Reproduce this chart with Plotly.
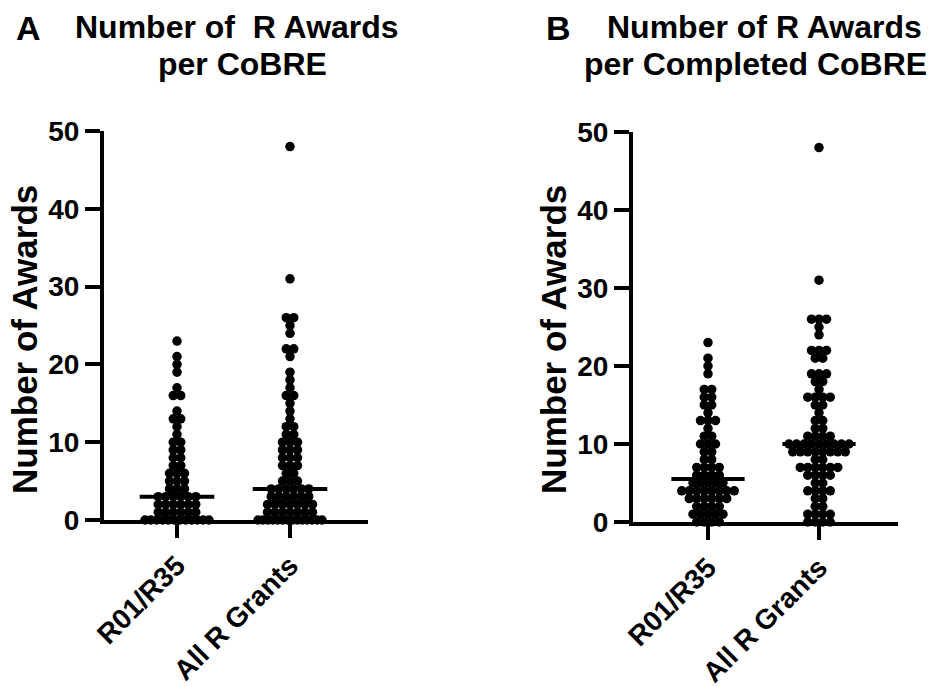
import numpy as np
import plotly.graph_objects as go
from collections import Counter

# ---------------- data ----------------
categories = ["R01/R35", "All R Grants"]

# Panel A: Number of R awards per CoBRE
a_r01 = [0, 0, 0, 0, 0, 0, 0, 0, 0, 0, 0, 0,
         1, 1, 1, 1, 1, 1, 2, 2, 2, 2, 2, 2, 3, 3, 3, 3, 3, 3,
         4, 4, 4, 5, 5, 5, 6, 6, 6, 7, 7, 8, 8, 9, 9, 10, 10,
         11, 12, 13, 13, 14, 16, 16, 17, 19, 20, 21, 23]
a_all = [0, 0, 0, 0, 0, 0, 0, 0, 0, 0, 0, 0, 0, 0,
         1, 1, 1, 1, 1, 1, 1, 2, 2, 2, 2, 2, 2, 2, 3, 3, 3, 3, 3, 3,
         4, 4, 4, 4, 4, 4, 5, 5, 5, 6, 6, 7, 7, 7, 8, 8, 8, 9, 9, 9,
         10, 10, 10, 11, 11, 12, 12, 13, 14, 15, 16, 16, 17, 18, 19,
         21, 22, 22, 24, 25, 26, 26, 31, 48]

# Panel B: Number of R awards per completed CoBRE
b_r01 = [0, 0, 0, 0, 1, 1, 1, 1, 1, 2, 2, 2, 2,
         3, 3, 3, 3, 3, 3, 4, 4, 4, 4, 4, 4, 4, 4, 5, 5, 5, 5, 5,
         6, 6, 6, 6, 7, 7, 7, 7, 8, 8, 9, 9, 10, 10, 10, 11, 11,
         12, 13, 13, 13, 14, 15, 15, 16, 16, 17, 17,
         19, 20, 21, 23]
b_all = [0, 0, 0, 0, 1, 1, 1, 1, 2, 2, 3, 3, 4, 4, 4, 4, 5, 5,
         6, 6, 6, 6, 7, 7, 7, 7, 7, 7, 8, 8, 9, 9, 9, 9, 9, 9, 9, 9,
         10, 10, 10, 10, 10, 10, 10, 10, 10,
         11, 11, 11, 11, 12, 12, 13, 13, 14, 15, 15, 16, 16, 16, 16,
         17, 18, 18, 19, 19, 19, 21, 21, 22, 22, 22, 24, 25, 26, 26, 26,
         31, 48]

y_ticks = [0, 10, 20, 30, 40, 50]

panel_titles = [["Number of\u00a0 R Awards", "per CoBRE"],
                ["Number of R Awards", "per Completed CoBRE"]]
panel_letters = ["A", "B"]
y_title = "Number of Awards"

# ---------------- layout helpers ----------------
# body margin is removed by a small post script, so the figure sits at (0, 0)
W, H = 941, 687
FONT = "Liberation Sans, Arial, sans-serif"


def px(x):
    return x / W


def py(y):
    return 1 - y / H


def swarm(values, px_per_unit, step_px=7.5, max_span_px=64):
    cnt = Counter(values)
    seen = {}
    offs = []
    for v in values:
        n = cnt[v]
        i = seen.get(v, 0)
        seen[v] = i + 1
        step = step_px if n <= 1 else min(step_px, max_span_px / (n - 1))
        offs.append((i - (n - 1) / 2) * step / px_per_unit)
    return offs


# panel geometry in page pixels: x-axis left/right, y top(50)/bottom(0), category centres
panels = [
    dict(data=[a_r01, a_all], x0=104, x1=368, ytop=131, ybot=520, c0=177, c1=290),
    dict(data=[b_r01, b_all], x0=633, x1=898, ytop=132, ybot=522, c0=708, c1=819),
]

fig = go.Figure()
layout = dict(width=W, height=H, margin=dict(l=0, r=0, t=0, b=0, autoexpand=False),
              template="none",
              paper_bgcolor="white", plot_bgcolor="white", showlegend=False,
              font=dict(family=FONT, color="black"))

annotations = []
for k, p in enumerate(panels):
    ppu = p["c1"] - p["c0"]
    xr = [-(p["c0"] - p["x0"]) / ppu, 1 + (p["x1"] - p["c1"]) / ppu]
    xa = "x" if k == 0 else "x2"
    ya = "y" if k == 0 else "y2"
    for ci, vals in enumerate(p["data"]):
        offs = swarm(vals, ppu)
        fig.add_trace(go.Scatter(
            x=[ci + o for o in offs], y=vals, mode="markers",
            marker=dict(size=9.5, color="black", line=dict(width=0)),
            cliponaxis=False, xaxis=xa, yaxis=ya, hoverinfo="skip"))
        med = float(np.median(vals))
        fig.add_trace(go.Scatter(
            x=[ci - 0.33, ci + 0.33], y=[med, med], mode="lines",
            line=dict(color="black", width=4), cliponaxis=False,
            xaxis=xa, yaxis=ya, hoverinfo="skip"))
    axx = dict(domain=[px(p["x0"]), px(p["x1"])], range=xr,
               tickvals=[0, 1], ticktext=categories, tickangle=-45,
               showline=True, linewidth=4, linecolor="black",
               ticks="outside", ticklen=14, tickwidth=4, tickcolor="black",
               showgrid=False, zeroline=False, automargin=False,
               tickfont=dict(size=28, family=FONT, weight="bold", color="black"),
               anchor=ya, fixedrange=True)
    axy = dict(domain=[py(p["ybot"]), py(p["ytop"])], range=[0, 50],
               tickvals=y_ticks, showline=True, linewidth=4, linecolor="black",
               ticks="outside", ticklen=15, tickwidth=4, tickcolor="black",
               showgrid=False, zeroline=False, automargin=False,
               tickfont=dict(size=28, family=FONT, weight="bold", color="black"),
               anchor=xa, fixedrange=True)
    if k == 0:
        layout["xaxis"] = axx
        layout["yaxis"] = axy
    else:
        layout["xaxis2"] = axx
        layout["yaxis2"] = axy

# titles
title_pos = [dict(letter=(28, 28), l1=(237, 27), l2=(242, 64), yt=(24, 340)),
             dict(letter=(558, 28), l1=(764, 27), l2=(755, 64), yt=(553, 340))]
for k, tp in enumerate(title_pos):
    annotations.append(dict(text=panel_letters[k], x=px(tp["letter"][0]), y=py(tp["letter"][1]),
                            xref="paper", yref="paper", showarrow=False,
                            xanchor="center", yanchor="middle",
                            font=dict(size=34, family=FONT, weight="bold", color="black")))
    for li, key in enumerate(["l1", "l2"]):
        annotations.append(dict(text=panel_titles[k][li], x=px(tp[key][0]), y=py(tp[key][1]),
                                xref="paper", yref="paper", showarrow=False,
                                xanchor="center", yanchor="middle",
                                font=dict(size=32, family=FONT, weight="bold", color="black")))
    annotations.append(dict(text=y_title, x=px(tp["yt"][0]), y=py(tp["yt"][1]),
                            xref="paper", yref="paper", showarrow=False, textangle=-90,
                            xanchor="center", yanchor="middle", borderpad=0,
                            font=dict(size=35, family=FONT, weight="bold", color="black")))

layout["annotations"] = annotations
fig.update_layout(**layout)
fig.write_html("out.html", config={"displayModeBar": False, "staticPlot": True},
               post_script="document.body.style.margin='0px';document.body.style.padding='0px';")
